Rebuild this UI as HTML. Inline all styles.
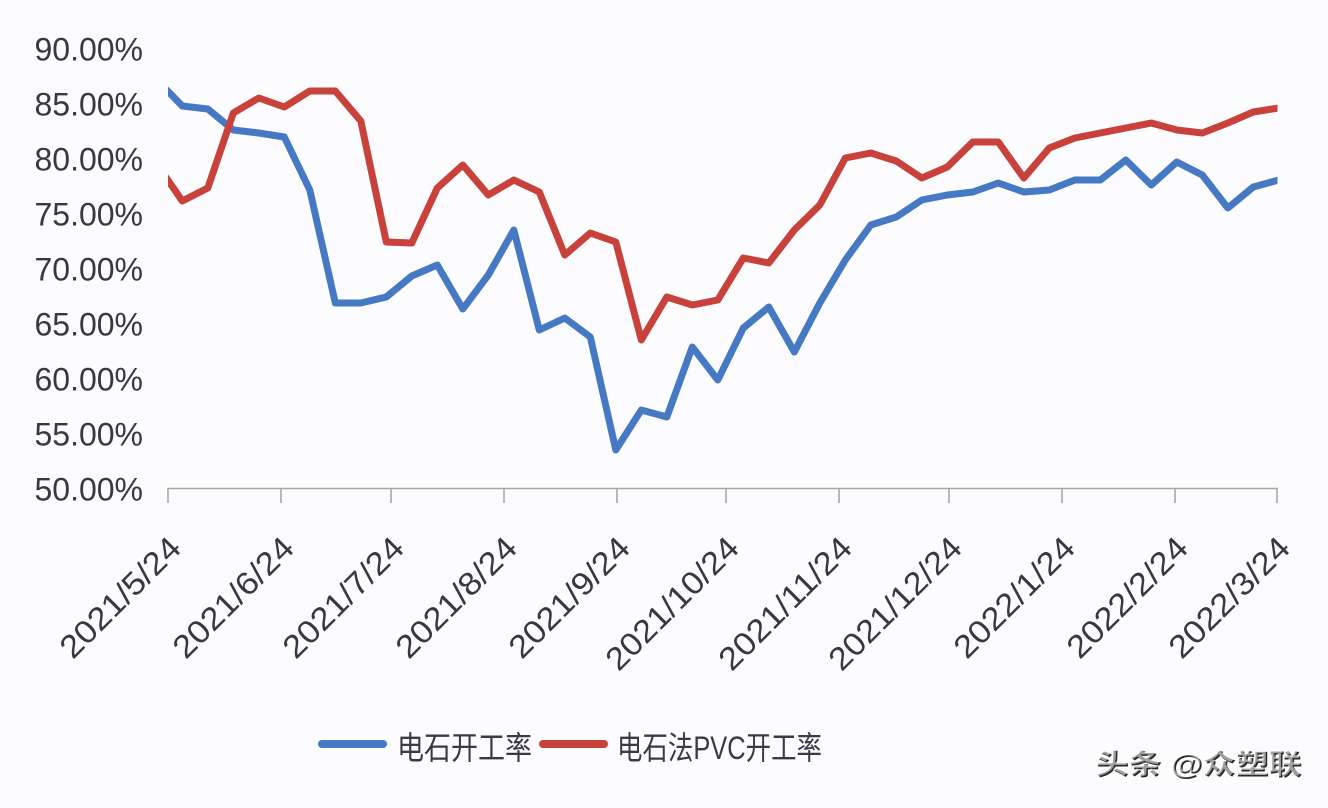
<!DOCTYPE html>
<html>
<head>
<meta charset="utf-8">
<style>
html,body{margin:0;padding:0;background:#fcfcfe;}
svg{display:block;}
</style>
</head>
<body>
<svg width="1328" height="808" viewBox="0 0 1328 808" xmlns="http://www.w3.org/2000/svg">
<rect x="0" y="0" width="1328" height="808" fill="#fcfcfe"/>
<defs>
<clipPath id="plot"><rect x="168" y="0" width="1109.5" height="500"/></clipPath>
</defs>

<!-- Y axis labels -->
<g font-family="Liberation Sans, sans-serif" font-size="32" fill="#38383f" text-anchor="end">
<text x="143" y="60.5">90.00%</text>
<text x="143" y="115.5">85.00%</text>
<text x="143" y="170.5">80.00%</text>
<text x="143" y="225.5">75.00%</text>
<text x="143" y="280.5">70.00%</text>
<text x="143" y="335.5">65.00%</text>
<text x="143" y="390.5">60.00%</text>
<text x="143" y="445.5">55.00%</text>
<text x="143" y="500.5">50.00%</text>
</g>

<!-- X axis -->
<g stroke="#a8a8a8" stroke-width="1.6" fill="none">
<line x1="167.5" y1="488.5" x2="1278" y2="488.5"/>
<line x1="168" y1="488" x2="168" y2="503"/>
<line x1="281" y1="488" x2="281" y2="503"/>
<line x1="391" y1="488" x2="391" y2="503"/>
<line x1="504" y1="488" x2="504" y2="503"/>
<line x1="617" y1="488" x2="617" y2="503"/>
<line x1="726" y1="488" x2="726" y2="503"/>
<line x1="839" y1="488" x2="839" y2="503"/>
<line x1="949" y1="488" x2="949" y2="503"/>
<line x1="1062" y1="488" x2="1062" y2="503"/>
<line x1="1175" y1="488" x2="1175" y2="503"/>
<line x1="1277" y1="488" x2="1277" y2="503"/>
</g>

<!-- X axis labels -->
<g font-family="Liberation Sans, sans-serif" font-size="32" fill="#38383f" text-anchor="end">
<text transform="translate(183,550) rotate(-45)" textLength="156" lengthAdjust="spacingAndGlyphs">2021/5/24</text>
<text transform="translate(296,550) rotate(-45)" textLength="156" lengthAdjust="spacingAndGlyphs">2021/6/24</text>
<text transform="translate(406,550) rotate(-45)" textLength="156" lengthAdjust="spacingAndGlyphs">2021/7/24</text>
<text transform="translate(519,550) rotate(-45)" textLength="156" lengthAdjust="spacingAndGlyphs">2021/8/24</text>
<text transform="translate(632,550) rotate(-45)" textLength="156" lengthAdjust="spacingAndGlyphs">2021/9/24</text>
<text transform="translate(741,550) rotate(-45)" textLength="173" lengthAdjust="spacingAndGlyphs">2021/10/24</text>
<text transform="translate(854,550) rotate(-45)" textLength="173" lengthAdjust="spacingAndGlyphs">2021/11/24</text>
<text transform="translate(964,550) rotate(-45)" textLength="173" lengthAdjust="spacingAndGlyphs">2021/12/24</text>
<text transform="translate(1077,550) rotate(-45)" textLength="156" lengthAdjust="spacingAndGlyphs">2022/1/24</text>
<text transform="translate(1190,550) rotate(-45)" textLength="156" lengthAdjust="spacingAndGlyphs">2022/2/24</text>
<text transform="translate(1292,550) rotate(-45)" textLength="156" lengthAdjust="spacingAndGlyphs">2022/3/24</text>
</g>

<!-- Series -->
<g clip-path="url(#plot)" fill="none" stroke-width="7" stroke-linejoin="round" stroke-linecap="butt">
<polyline stroke="#4679c4" points="156.8,80 182.3,106 207.8,109 233.3,130 258.8,133 284.3,137 309.8,190 335.3,303 360.8,303 386.3,297 411.8,276 437.3,265 462.8,309 488.3,275 513.8,230 539.3,330 564.8,318 590.3,337 615.8,450 641.3,410 666.8,417 692.3,347 717.8,380 743.3,328 768.8,307 794.3,352 819.8,303 845.3,260 870.8,225 896.3,217 921.8,200 947.3,195 972.8,192 998.3,183 1023.8,192 1049.3,190 1074.8,180 1100.3,180 1125.8,160 1151.3,185 1176.8,162 1202.3,175 1227.8,208 1253.3,187 1278.8,180"/>
<polyline stroke="#c8413a" points="156.8,164 182.3,201 207.8,188 233.3,113 258.8,98 284.3,107 309.8,91 335.3,91 360.8,121 386.3,242 411.8,243 437.3,188 462.8,165 488.3,195 513.8,180 539.3,192 564.8,255 590.3,233 615.8,242 641.3,340 666.8,297 692.3,305 717.8,300 743.3,258 768.8,263 794.3,230 819.8,205 845.3,158 870.8,153 896.3,161 921.8,178 947.3,167 972.8,142 998.3,142 1023.8,178 1049.3,148 1074.8,138 1100.3,133 1125.8,128 1151.3,123 1176.8,130 1202.3,133 1227.8,123 1253.3,112 1278.8,108"/>
</g>

<!-- Legend -->
<line x1="322" y1="744" x2="383" y2="744" stroke="#4679c4" stroke-width="8" stroke-linecap="round"/>
<text x="397" y="759" font-family="Liberation Sans, 'Noto Sans CJK SC', sans-serif" font-size="32" fill="#3a3a44" textLength="135" lengthAdjust="spacingAndGlyphs">电石开工率</text>
<line x1="543" y1="744" x2="604" y2="744" stroke="#c8413a" stroke-width="8" stroke-linecap="round"/>
<text x="617" y="759" font-family="Liberation Sans, 'Noto Sans CJK SC', sans-serif" font-size="32" fill="#3a3a44" textLength="205" lengthAdjust="spacingAndGlyphs">电石法PVC开工率</text>

<!-- Watermark -->
<g font-family="Liberation Sans, 'Noto Sans CJK SC', sans-serif" font-size="28" font-weight="bold">
<text x="1096.5" y="774.5" fill="#2a2a2a" textLength="206" lengthAdjust="spacingAndGlyphs">头条 @众塑联</text>
<text x="1095" y="773" fill="#ffffff" textLength="206" lengthAdjust="spacingAndGlyphs" opacity="0.55">头条 @众塑联</text>
</g>
</svg>
</body>
</html>
